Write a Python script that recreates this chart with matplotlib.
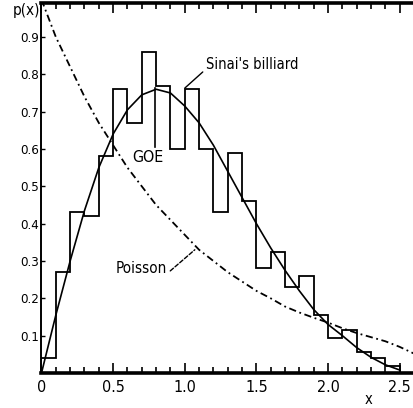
import matplotlib
matplotlib.use("Agg")
import matplotlib.pyplot as plt
import numpy as np

# histogram of level spacings, bins of width 0.1 from 0 to 2.5
bin_edges = [round(0.1 * k, 1) for k in range(26)]
hist_heights = [0.04, 0.27, 0.43, 0.42, 0.58, 0.76, 0.67, 0.86, 0.77, 0.60,
                0.76, 0.60, 0.43, 0.59, 0.46, 0.28, 0.325, 0.23, 0.26, 0.155,
                0.095, 0.116, 0.057, 0.04, 0.02]

# GOE curve
goe_x = [0.0, 0.1, 0.2, 0.3, 0.4, 0.5, 0.6, 0.7, 0.8, 0.9, 1.0, 1.1, 1.2,
         1.3, 1.4, 1.5, 1.6, 1.7, 1.8, 1.9, 2.0, 2.1, 2.2, 2.3, 2.4, 2.5]
goe_y = [0.0, 0.155, 0.30, 0.435, 0.55, 0.64, 0.705, 0.745, 0.76, 0.75,
         0.715, 0.67, 0.61, 0.54, 0.47, 0.40, 0.335, 0.275, 0.22, 0.17,
         0.13, 0.10, 0.068, 0.042, 0.022, 0.008]

# Poisson curve
poi_x = [0.0, 0.1, 0.2, 0.3, 0.4, 0.5, 0.6, 0.7, 0.8, 0.9, 1.0, 1.1, 1.2,
         1.3, 1.4, 1.5, 1.6, 1.7, 1.8, 1.9, 2.0, 2.1, 2.2, 2.3, 2.4, 2.5, 2.6]
poi_y = [1.0, 0.90, 0.82, 0.74, 0.67, 0.61, 0.55, 0.50, 0.45, 0.41, 0.37,
         0.33, 0.30, 0.27, 0.245, 0.22, 0.20, 0.178, 0.162, 0.148, 0.135,
         0.12, 0.107, 0.096, 0.085, 0.07, 0.052]

xticks = [0, 0.5, 1.0, 1.5, 2.0, 2.5]
xticklabels = ["0", "0.5", "1.0", "1.5", "2.0", "2.5"]
yticks = [0.1, 0.2, 0.3, 0.4, 0.5, 0.6, 0.7, 0.8, 0.9]

plt.rcParams['font.family'] = ['DejaVu Sans']
plt.rcParams['font.stretch'] = 'condensed'

fig = plt.figure(figsize=(4.14, 4.08), dpi=100)
ax = fig.add_axes([41.5 / 414, 35 / 408, 372.5 / 414, 370 / 408])

ax.stairs(hist_heights, bin_edges, color="black", lw=1.3)
ax.plot(goe_x, goe_y, color="black", lw=1.2)
ax.plot(poi_x, poi_y, color="black", lw=1.3, linestyle=(0, (4, 2, 1, 2)))

ax.set_xlim(0, 2.6)
ax.set_ylim(0, 0.991)

ax.spines["right"].set_visible(False)
ax.spines["bottom"].set_linewidth(2.6)
ax.spines["top"].set_linewidth(2.6)
ax.spines["left"].set_linewidth(1.4)

ax.set_xticks(xticks)
ax.set_xticklabels(xticklabels, fontsize=11.5)
ax.set_xticks(np.arange(0, 2.61, 0.1), minor=True)
ax.set_yticks(yticks)
ax.set_yticklabels([f"{v:.1f}" for v in yticks], fontsize=9.5)
ax.tick_params(axis="x", which="both", direction="in", top=True,
               width=1.2, pad=5)
ax.tick_params(axis="x", which="major", length=7)
ax.tick_params(axis="x", which="minor", length=4)
ax.tick_params(axis="y", which="major", direction="in", length=3,
               width=1.0, pad=2)

ax.text(-0.2, 0.95, "p(x)", fontsize=11, ha="left", va="bottom",
        clip_on=False)
ax.text(2.28, -0.07, "x", fontsize=10.5, ha="center", va="center",
        clip_on=False)

ax.annotate("Sinai's billiard", xy=(1.0, 0.763), xytext=(1.145, 0.825),
            fontsize=10.5, ha="left", va="center",
            arrowprops=dict(arrowstyle="-", color="black", lw=1.0,
                            shrinkA=0, shrinkB=0, relpos=(0, 0.2)))
ax.plot([0.792, 0.792], [0.605, 0.763], color="black", lw=1.2)
ax.text(0.74, 0.576, "GOE", fontsize=11.5, ha="center", va="center")
ax.annotate("Poisson", xy=(1.07, 0.33), xytext=(0.70, 0.281),
            fontsize=11, ha="center", va="center",
            arrowprops=dict(arrowstyle="-", color="black", lw=1.0,
                            linestyle=(0, (3, 1.5)),
                            shrinkA=0, shrinkB=0, relpos=(1.05, 0.3)))

fig.savefig("out.png", dpi=100)
